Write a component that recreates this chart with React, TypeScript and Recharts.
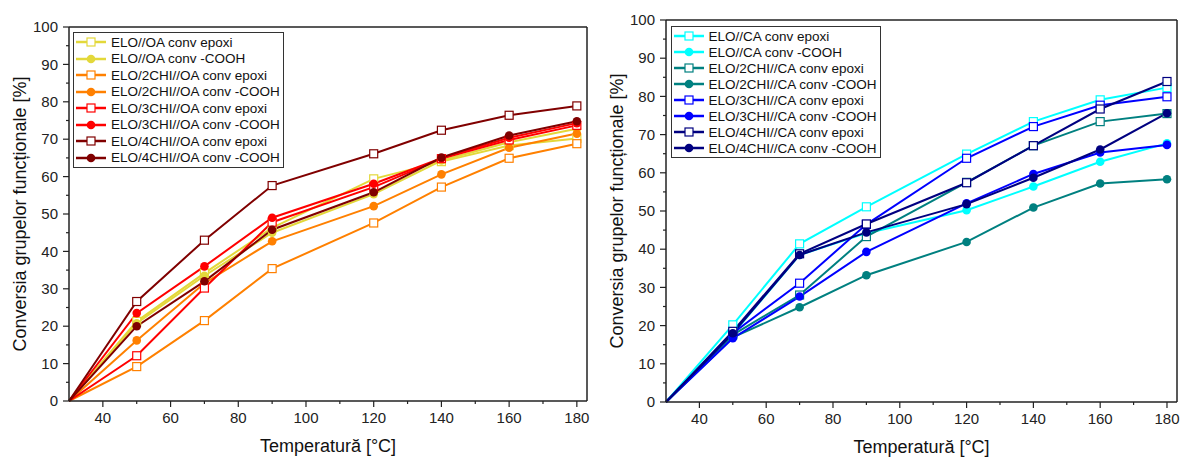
import { Legend, Line, LineChart, XAxis, YAxis } from 'recharts';

const TEMPS = [30, 50, 70, 90, 120, 140, 160, 180];
const X_TICKS = [40, 50, 60, 70, 80, 90, 100, 110, 120, 130, 140, 150, 160, 170, 180];
const Y_TICKS = [0, 5, 10, 15, 20, 25, 30, 35, 40, 45, 50, 55, 60, 65, 70, 75, 80, 85, 90, 95, 100];

// left panel: OA
const OA_NAMES = [
  'ELO//OA conv epoxi', 'ELO//OA conv -COOH',
  'ELO/2CHI//OA conv epoxi', 'ELO/2CHI//OA conv -COOH',
  'ELO/3CHI//OA conv epoxi', 'ELO/3CHI//OA conv -COOH',
  'ELO/4CHI//OA conv epoxi', 'ELO/4CHI//OA conv -COOH',
];
const OA_COLORS = ['#E3D83A', '#E3D83A', '#FF8000', '#FF8000', '#FF0000', '#FF0000', '#800000', '#800000'];
const OA_EPOXI = [0, 21.3, 34.2, 46.3, 59.4, 64.0, 68.3, 70.2];
const OA_COOH = [0, 20.8, 33.5, 45.0, 55.3, 64.3, 69.2, 72.8];
const OA2_EPOXI = [0, 9.2, 21.5, 35.4, 47.6, 57.2, 64.9, 68.8];
const OA2_COOH = [0, 16.2, 31.5, 42.7, 52.1, 60.6, 67.7, 71.5];
const OA3_EPOXI = [0, 12.1, 30.2, 47.8, 57.2, 64.8, 69.8, 73.7];
const OA3_COOH = [0, 23.5, 36.0, 49.0, 58.1, 64.9, 70.4, 74.3];
const OA4_EPOXI = [0, 26.6, 43.0, 57.6, 66.1, 72.4, 76.4, 78.9];
const OA4_COOH = [0, 20.0, 32.0, 45.8, 55.8, 65.1, 71.0, 74.8];

// right panel: CA
const CA_NAMES = [
  'ELO//CA conv epoxi', 'ELO//CA conv -COOH',
  'ELO/2CHI//CA conv epoxi', 'ELO/2CHI//CA conv -COOH',
  'ELO/3CHI//CA conv epoxi', 'ELO/3CHI//CA conv -COOH',
  'ELO/4CHI//CA conv epoxi', 'ELO/4CHI//CA conv -COOH',
];
const CA_COLORS = ['#00FFFF', '#00FFFF', '#008080', '#008080', '#0000FF', '#0000FF', '#000080', '#000080'];
const CA_EPOXI = [0, 20.2, 41.4, 51.1, 64.9, 73.4, 79.1, 82.3];
const CA_COOH = [0, 17.8, 38.5, 44.2, 50.2, 56.4, 62.9, 67.7];
const CA2_EPOXI = [0, 17.6, 28.0, 43.3, 57.5, 67.1, 73.4, 75.5];
const CA2_COOH = [0, 16.9, 24.8, 33.2, 41.9, 50.9, 57.2, 58.3];
const CA3_EPOXI = [0, 18.0, 31.1, 46.5, 63.8, 72.1, 77.7, 79.9];
const CA3_COOH = [0, 16.7, 27.6, 39.3, 52.0, 59.7, 65.3, 67.3];
const CA4_EPOXI = [0, 18.5, 38.8, 46.6, 57.4, 67.1, 76.7, 83.9];
const CA4_COOH = [0, 18.0, 38.5, 44.4, 51.8, 58.7, 66.1, 75.6];

const OA_SERIES = [OA_EPOXI, OA_COOH, OA2_EPOXI, OA2_COOH, OA3_EPOXI, OA3_COOH, OA4_EPOXI, OA4_COOH];
const CA_SERIES = [CA_EPOXI, CA_COOH, CA2_EPOXI, CA2_COOH, CA3_EPOXI, CA3_COOH, CA4_EPOXI, CA4_COOH];

const toRows = (series: number[][]) =>
  TEMPS.map((t, i) => {
    const row: Record<string, number> = { t };
    series.forEach((s, k) => { row[`s${k}`] = s[i]; });
    return row;
  });

const FONT = '"Liberation Sans", Arial, sans-serif';
const AXIS = '#222';
const TS = 6;
const TM = 5;

function YTick(props: any) {
  const { x, y, payload } = props;
  const major = payload.value % 10 === 0;
  const ax = x + TS + TM;
  return (
    <g>
      <line x1={ax - (major ? 6 : 3)} x2={ax} y1={y} y2={y} stroke={AXIS} strokeWidth={1.2} />
      {major && (
        <text x={x} y={y} dy="0.35em" textAnchor="end" fontSize={15} fill={AXIS} fontFamily={FONT}>
          {payload.value}
        </text>
      )}
    </g>
  );
}

function XTick(props: any) {
  const { x, y, payload } = props;
  const major = payload.value % 20 === 0;
  const ay = y - TS - TM;
  return (
    <g>
      <line x1={x} x2={x} y1={ay} y2={ay + (major ? 6 : 3)} stroke={AXIS} strokeWidth={1.2} />
      {major && (
        <text x={x} y={y} dy="0.75em" textAnchor="middle" fontSize={15} fill={AXIS} fontFamily={FONT}>
          {payload.value}
        </text>
      )}
    </g>
  );
}

function Marker({ shape, color, cx, cy }: { shape: string; color: string; cx: number; cy: number }) {
  if (shape === 'square') {
    return <rect x={cx - 4} y={cy - 4} width={8} height={8} fill="#fff" stroke={color} strokeWidth={1.2} />;
  }
  return <circle cx={cx} cy={cy} r={4.3} fill={color} />;
}

function LegendBox({ payload, rowH }: any) {
  return (
    <div style={{ border: '1px solid #333', background: '#fff', padding: '1px 3px 1px 1px', fontFamily: FONT, fontSize: 13.5, color: '#111' }}>
      {(payload || []).map((e: any) => (
        <div key={e.value} style={{ display: 'flex', alignItems: 'center', height: rowH, whiteSpace: 'nowrap' }}>
          <svg width={32} height={12} style={{ marginRight: 4 }}>
            <line x1={1} x2={31} y1={6} y2={6} stroke={e.color} strokeWidth={2.5} />
            <Marker shape={e.type} color={e.color} cx={16} cy={6} />
          </svg>
          {e.value}
        </div>
      ))}
    </div>
  );
}

type PanelProps = {
  rows: Record<string, number>[];
  names: string[];
  colors: string[];
  width: number;
  yAxisW: number;
  top: number;
  right: number;
  xAxisH: number;
  labelDx: number;
  legendPos: { left: number; top: number };
  rowH: number;
};

function Panel({ rows, names, colors, width, yAxisW, top, right, xAxisH, labelDx, legendPos, rowH }: PanelProps) {
  return (
    <LineChart width={width} height={457} data={rows} margin={{ top, right, bottom: 0, left: 0 }}>
      <XAxis type="number" dataKey="t" domain={[30, 183]} ticks={X_TICKS} interval={0}
        height={xAxisH} tickSize={TS} tickMargin={TM} tickLine={false} tick={<XTick />}
        axisLine={{ stroke: AXIS, strokeWidth: 1.5 }}
        label={{ value: 'Temperatură [°C]', position: 'center', dy: 17, fontSize: 18, fill: '#111', fontFamily: FONT }} />
      <XAxis xAxisId="top" orientation="top" type="number" domain={[30, 183]} height={1}
        tick={false} tickLine={false} axisLine={{ stroke: AXIS, strokeWidth: 1.5 }} />
      <YAxis type="number" domain={[0, 100]} ticks={Y_TICKS} interval={0} width={yAxisW}
        tickSize={TS} tickMargin={TM} tickLine={false} tick={<YTick />}
        axisLine={{ stroke: AXIS, strokeWidth: 1.5 }}
        label={{ value: 'Conversia grupelor funcționale [%]', position: 'center', angle: -90, dx: labelDx, fontSize: 18, fill: '#111', fontFamily: FONT }} />
      <YAxis yAxisId="right" orientation="right" type="number" domain={[0, 100]} width={1}
        tick={false} tickLine={false} axisLine={{ stroke: AXIS, strokeWidth: 1.5 }} />
      <Legend layout="vertical" align="center" verticalAlign="middle" itemSorter="dataKey"
        wrapperStyle={{ left: legendPos.left, top: legendPos.top, width: 'auto', height: 'auto' }}
        content={(p: any) => <LegendBox payload={p.payload} rowH={rowH} />} />
      {names.map((name, k) => {
        const shape = name.includes('epoxi') ? 'square' : 'circle';
        return (
          <Line key={name} dataKey={`s${k}`} name={name} stroke={colors[k]} strokeWidth={2}
            legendType={shape as any} isAnimationActive={false}
            dot={(p: any) => p.index === 0
              ? <g key={`${k}-${p.index}`} />
              : <Marker key={`${k}-${p.index}`} shape={shape} color={colors[k]} cx={p.cx} cy={p.cy} />}
            activeDot={false} />
        );
      })}
    </LineChart>
  );
}

export default function App() {
  return (
    <div style={{ position: 'absolute', left: 0, top: 0, width: 1184, height: 457, background: '#fff', fontFamily: FONT }}>
      <div style={{ position: 'absolute', left: 0, top: 0 }}>
        <Panel rows={toRows(OA_SERIES)} names={OA_NAMES} colors={OA_COLORS} width={600} yAxisW={69}
          top={26} right={12} xAxisH={56} labelDx={-14.5} legendPos={{ left: 73, top: 32 }} rowH={16.5} />
      </div>
      <div style={{ position: 'absolute', left: 600, top: 0 }}>
        <Panel rows={toRows(CA_SERIES)} names={CA_NAMES} colors={CA_COLORS} width={584} yAxisW={66}
          top={19} right={6} xAxisH={55} labelDx={-16} legendPos={{ left: 70.5, top: 26 }} rowH={16} />
      </div>
    </div>
  );
}
